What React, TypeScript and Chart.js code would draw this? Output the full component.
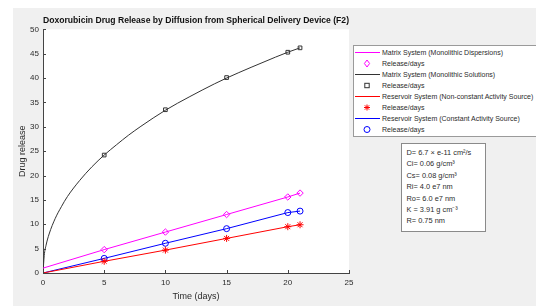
import React, { useEffect, useRef } from "react";
import { Chart, registerables } from "chart.js";

Chart.register(...registerables);

const TITLE = "Doxorubicin Drug Release by Diffusion from Spherical Delivery Device (F2)";
const X_TITLE = "Time (days)";
const Y_TITLE = "Drug release";
const X_TICKS = [0, 5, 10, 15, 20, 25];
const Y_TICKS = [0, 5, 10, 15, 20, 25, 30, 35, 40, 45, 50];

// linear models (line drawn from t = 0)
const lineDays = [0, 5, 10, 15, 20, 21];
const dispersionLine = [1.0, 4.8, 8.4, 12.0, 15.6, 16.4];
const nonConstantLine = [0, 2.4, 4.7, 7.1, 9.5, 9.9];
const constantLine = [0, 3.0, 6.1, 9.1, 12.4, 12.7];

// monolithic solutions curve
const solutionDays = [0, 0.1, 0.25, 0.5, 1, 1.5, 2, 3, 4, 5, 6, 7, 8, 10, 12, 14, 15, 17, 19, 20, 21];
const solutionCurve = [0, 3.6, 5.7, 8.0, 11.2, 13.6, 15.7, 19.0, 21.8, 24.2, 26.3, 28.3, 30.1, 33.4, 36.2, 38.8, 40.0, 42.2, 44.3, 45.3, 46.2];

// release/days markers
const markerDays = [5, 10, 15, 20, 21];
const dispersionMarkers = [4.8, 8.4, 12.0, 15.6, 16.4];
const solutionMarkers = [24.2, 33.5, 40.1, 45.3, 46.2];
const nonConstantMarkers = [2.4, 4.7, 7.1, 9.5, 9.9];
const constantMarkers = [3.0, 6.1, 9.1, 12.4, 12.7];

const LEGEND_LABELS = [
  "Matrix System (Monolithic Dispersions)",
  "Release/days",
  "Matrix System (Monolithic Solutions)",
  "Release/days",
  "Reservoir System (Non-constant Activity Source)",
  "Release/days",
  "Reservoir System (Constant Activity Source)",
  "Release/days",
];

const ANNOTATION_LINES = [
  "D= 6.7 × e-11 cm²/s",
  "Ci= 0.06 g/cm³",
  "Cs= 0.08 g/cm³",
  "Ri= 4.0 e7 nm",
  "Ro= 6.0 e7 nm",
  "K = 3.91 g cm⁻³",
  "R= 0.75 nm",
];

const MAGENTA = "#ff00ff";
const BLACK = "#333333";
const RED = "#ff0000";
const BLUE = "#0000ff";
const FONT = "'Liberation Sans', Arial, Helvetica, sans-serif";
const TEXT = "#2b2b2b";

const pts = (xs: number[], ys: number[]) => xs.map((x, i) => ({ x, y: ys[i] }));

type Entry = { kind: "line" | "marker"; color: string; shape?: string };
const LEGEND_STYLE: Entry[] = [
  { kind: "line", color: MAGENTA },
  { kind: "marker", color: MAGENTA, shape: "diamond" },
  { kind: "line", color: BLACK },
  { kind: "marker", color: BLACK, shape: "square" },
  { kind: "line", color: RED },
  { kind: "marker", color: RED, shape: "star" },
  { kind: "line", color: BLUE },
  { kind: "marker", color: BLUE, shape: "circle" },
];

function Swatch({ e }: { e: Entry }) {
  const cx = 13, cy = 5.5;
  let shape: React.ReactNode = null;
  if (e.kind === "line") {
    shape = <line x1={1} y1={cy} x2={26} y2={cy} stroke={e.color} strokeWidth={1} />;
  } else if (e.shape === "diamond") {
    shape = <polygon points={`${cx},${cy - 3.5} ${cx + 2.6},${cy} ${cx},${cy + 3.5} ${cx - 2.6},${cy}`} fill="none" stroke={e.color} strokeWidth={1} />;
  } else if (e.shape === "square") {
    shape = <rect x={cx - 2.2} y={cy - 2.2} width={4.4} height={4.4} fill="none" stroke={e.color} strokeWidth={1} />;
  } else if (e.shape === "star") {
    shape = (
      <g stroke={e.color} strokeWidth={1}>
        <line x1={cx - 3} y1={cy} x2={cx + 3} y2={cy} />
        <line x1={cx} y1={cy - 3} x2={cx} y2={cy + 3} />
        <line x1={cx - 2.2} y1={cy - 2.2} x2={cx + 2.2} y2={cy + 2.2} />
        <line x1={cx - 2.2} y1={cy + 2.2} x2={cx + 2.2} y2={cy - 2.2} />
      </g>
    );
  } else {
    shape = <circle cx={cx} cy={cy} r={3} fill="none" stroke={e.color} strokeWidth={1} />;
  }
  return (
    <svg width={27} height={11} style={{ display: "block", flex: "0 0 auto" }}>
      {shape}
    </svg>
  );
}

export default function App() {
  const ref = useRef<HTMLCanvasElement | null>(null);

  useEffect(() => {
    const canvas = ref.current;
    if (!canvas) return;

    const whiteArea = {
      id: "whiteArea",
      beforeDraw(chart: any) {
        const { ctx, chartArea } = chart;
        ctx.save();
        ctx.fillStyle = "#ffffff";
        ctx.fillRect(chartArea.left, chartArea.top, chartArea.right - chartArea.left, chartArea.bottom - chartArea.top);
        ctx.restore();
      },
    };

    const innerTicks = {
      id: "innerTicks",
      afterDraw(chart: any) {
        const { ctx, chartArea, scales } = chart;
        ctx.save();
        ctx.strokeStyle = "#444444";
        ctx.lineWidth = 1;
        ctx.beginPath();
        for (const v of X_TICKS) {
          const px = Math.round(scales.x.getPixelForValue(v)) + 0.5;
          ctx.moveTo(px, chartArea.bottom);
          ctx.lineTo(px, chartArea.bottom - 3);
        }
        for (const v of Y_TICKS) {
          const py = Math.round(scales.y.getPixelForValue(v)) + 0.5;
          ctx.moveTo(chartArea.left, py);
          ctx.lineTo(chartArea.left + 3, py);
        }
        ctx.stroke();
        ctx.restore();
      },
    };

    const lineDs = (data: any[], color: string) => ({
      data,
      showLine: true,
      borderColor: color,
      borderWidth: 1,
      pointRadius: 0,
      pointHoverRadius: 0,
      fill: false,
    });
    const markDs = (data: any[], color: string, style: string, r: number) => ({
      data,
      showLine: false,
      borderColor: color,
      backgroundColor: "rgba(0,0,0,0)",
      pointStyle: style,
      pointRadius: r,
      pointBorderWidth: 1,
    });

    const chart = new Chart(canvas, {
      type: "scatter",
      data: {
        datasets: [
          lineDs(pts(lineDays, dispersionLine), MAGENTA),
          markDs(pts(markerDays, dispersionMarkers), MAGENTA, "rectRot", 3.2),
          { ...lineDs(pts(solutionDays, solutionCurve), BLACK), cubicInterpolationMode: "monotone" },
          markDs(pts(markerDays, solutionMarkers), BLACK, "rect", 2.6),
          lineDs(pts(lineDays, nonConstantLine), RED),
          markDs(pts(markerDays, nonConstantMarkers), RED, "star", 3.5),
          lineDs(pts(lineDays, constantLine), BLUE),
          markDs(pts(markerDays, constantMarkers), BLUE, "circle", 3),
        ] as any,
      },
      options: {
        animation: false,
        responsive: false,
        devicePixelRatio: 1,
        events: [],
        layout: { padding: { left: 0, right: 187, top: 0, bottom: 0 } },
        plugins: {
          legend: { display: false },
          tooltip: { enabled: false },
          title: {
            display: true,
            text: TITLE,
            fullSize: false,
            color: "#111111",
            font: { family: FONT, size: 8.6, weight: "bold" },
            padding: { top: 15, bottom: 4 },
          },
        },
        scales: {
          x: {
            type: "linear",
            min: 0,
            max: 25,
            afterFit(scale: any) {
              scale.height = 33;
            },
            ticks: { stepSize: 5, padding: 5, color: TEXT, font: { family: FONT, size: 8 } },
            grid: { display: false, drawTicks: false },
            border: { display: true, color: "#444444", width: 1 },
            title: { display: true, text: X_TITLE, color: TEXT, font: { family: FONT, size: 9 }, padding: { top: 0, bottom: 3.6 } },
          },
          y: {
            type: "linear",
            min: 0,
            max: 50,
            afterFit(scale: any) {
              scale.width = 43;
            },
            ticks: { stepSize: 5, padding: 4, color: TEXT, font: { family: FONT, size: 8 } },
            grid: { display: false, drawTicks: false },
            border: { display: true, color: "#444444", width: 1 },
            title: { display: true, text: Y_TITLE, color: TEXT, font: { family: FONT, size: 9 }, padding: { top: 17.6, bottom: 0 } },
          },
        },
      } as any,
      plugins: [whiteArea, innerTicks],
    });

    return () => chart.destroy();
  }, []);

  return (
    <div style={{ position: "absolute", left: 0, top: 0, width: 536, height: 306, overflow: "hidden", background: "#ffffff", fontFamily: FONT }}>
      <div style={{ position: "absolute", left: 13, top: 8, width: 523, height: 298, background: "#f0f0f0" }} />
      <canvas ref={ref} width={536} height={306} style={{ position: "absolute", left: 0, top: 0, width: 536, height: 306 }} />
      <div
        style={{
          position: "absolute",
          left: 353,
          top: 45,
          width: 200,
          height: 89,
          background: "#ffffff",
          border: "1px solid #9a9a9a",
          paddingTop: 0.5,
          boxSizing: "content-box",
        }}
      >
        {LEGEND_LABELS.map((label, i) => (
          <div key={i} style={{ display: "flex", alignItems: "center", height: 11.1, whiteSpace: "nowrap" }}>
            <Swatch e={LEGEND_STYLE[i]} />
            <span style={{ fontSize: 7, color: TEXT, marginLeft: 1, lineHeight: "11px" }}>{label}</span>
          </div>
        ))}
      </div>
      <div
        style={{
          position: "absolute",
          left: 401,
          top: 143,
          width: 85,
          height: 89,
          background: "#ffffff",
          border: "1px solid #8a8a8a",
          boxSizing: "border-box",
          paddingLeft: 4.5,
          paddingTop: 3,
        }}
      >
        {ANNOTATION_LINES.map((t, i) => (
          <div key={i} style={{ fontSize: 7.4, color: TEXT, lineHeight: "11.4px", whiteSpace: "nowrap" }}>
            {t}
          </div>
        ))}
      </div>
    </div>
  );
}
